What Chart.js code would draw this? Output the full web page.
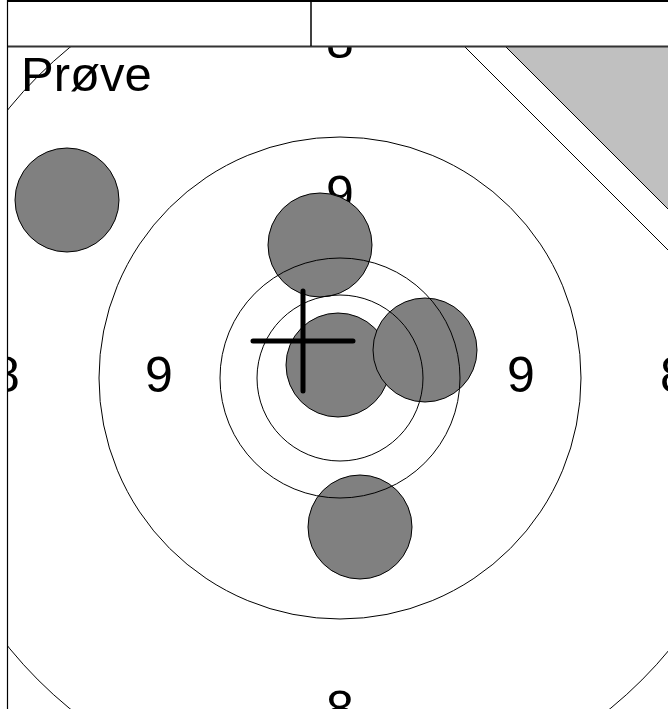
<!DOCTYPE html>
<html>
<head>
<meta charset="utf-8">
<script src="https://cdn.jsdelivr.net/npm/chart.js@4.4.0/dist/chart.umd.min.js"></script>
<style>
html,body{margin:0;padding:0;background:#fff;}
#wrap{width:668px;height:709px;position:relative;}
</style>
</head>
<body>
<div id="wrap"><canvas id="c"></canvas></div>
<script>
// ---- data (target units, centre of target = 0,0; y up) ----
const ringRadii   = [8.3, 12.0, 24.1, 42.7];
const ringLabels  = ['9', '8'];
const labelRadii  = [18.1, 33.4];
const labelAngles = [0, 90, 180, 270];

const shotX = [-27.3, -2.0, -0.2, 8.5, 2.0];
const shotY = [17.8, 13.3, 1.3, 2.8, -14.9];
const shotRadius = 5.2;

const crossX = [-3.7];
const crossY = [3.7];
const crossHalf = 5.0;

const guideX = [5.6, 40];
const guideY = [40, 5.6];
const shadeX = [9.7, 40];
const shadeY = [40, 9.7];

const titleText = 'Prøve';

// ---- helpers ----
function pxRadius(chart, r) {
  const s = chart.scales.x;
  return Math.abs(s.getPixelForValue(r) - s.getPixelForValue(0));
}
const zip = (xs, ys) => xs.map((x, i) => ({x: x, y: ys[i]}));

function drawLabels(chart) {
  const ctx = chart.ctx;
  const a = chart.chartArea;
  ctx.save();
  ctx.beginPath();
  ctx.rect(a.left, a.top, a.right - a.left, a.bottom - a.top);
  ctx.clip();
  ctx.fillStyle = '#000';
  ctx.font = '50px "Liberation Sans", Arial, sans-serif';
  ctx.textAlign = 'center';
  ctx.textBaseline = 'middle';
  ringLabels.forEach((lab, i) => {
    labelAngles.forEach(ang => {
      const t = ang * Math.PI / 180;
      const x = chart.scales.x.getPixelForValue(labelRadii[i] * Math.cos(t));
      const y = chart.scales.y.getPixelForValue(labelRadii[i] * Math.sin(t));
      ctx.fillText(lab, x, y);
    });
  });
  ctx.restore();
}

const targetPlugin = {
  id: 'target',
  beforeDatasetDraw(chart, args) {
    const ds = chart.data.datasets[args.index];
    if (ds.role === 'shots') drawLabels(chart);
    if (ds.role === 'cross') { chart.ctx.save(); chart.ctx.lineCap = 'round'; }
  },
  afterDatasetDraw(chart, args) {
    const ds = chart.data.datasets[args.index];
    if (ds.role === 'cross') chart.ctx.restore();
  },
  afterDatasetsDraw(chart) {
    const ctx = chart.ctx;
    ctx.save();
    ctx.fillStyle = '#000';
    ctx.font = '49px "Liberation Sans", Arial, sans-serif';
    ctx.textAlign = 'left';
    ctx.textBaseline = 'alphabetic';
    ctx.fillText(titleText, 21, 91);
    ctx.restore();
  },
  afterDraw(chart) {
    const ctx = chart.ctx;
    const W = chart.width, H = chart.height;
    ctx.save();
    ctx.fillStyle = '#fff';
    ctx.fillRect(0, 0, W, 46);
    ctx.strokeStyle = '#000';
    ctx.lineWidth = 2;
    ctx.beginPath(); ctx.moveTo(7, 1); ctx.lineTo(W, 1); ctx.stroke();
    ctx.strokeStyle = '#333';
    ctx.beginPath(); ctx.moveTo(7, 46.5); ctx.lineTo(W, 46.5); ctx.stroke();
    ctx.strokeStyle = '#000';
    ctx.lineWidth = 1.5;
    ctx.beginPath(); ctx.moveTo(311, 1); ctx.lineTo(311, 46); ctx.stroke();
    ctx.lineWidth = 1.2;
    ctx.beginPath(); ctx.moveTo(7.5, 0); ctx.lineTo(7.5, H); ctx.stroke();
    ctx.restore();
  }
};

new Chart(document.getElementById('c'), {
  type: 'scatter',
  data: {
    datasets: [
      {
        role: 'cross',
        data: zip(crossX, crossY),
        pointStyle: 'cross',
        pointRadius: ctx => pxRadius(ctx.chart, crossHalf),
        pointBorderColor: '#000',
        pointBorderWidth: 5,
        order: 0
      },
      {
        role: 'shade',
        type: 'line',
        data: zip(shadeX, shadeY),
        borderColor: '#000',
        borderWidth: 1,
        backgroundColor: '#c0c0c0',
        pointRadius: 0,
        fill: 'end',
        order: 1
      },
      {
        role: 'guide',
        type: 'line',
        data: zip(guideX, guideY),
        borderColor: '#000',
        borderWidth: 1,
        pointRadius: 0,
        fill: false,
        order: 2
      },
      {
        role: 'rings',
        data: ringRadii.map(() => ({x: 0, y: 0})),
        pointStyle: 'circle',
        pointRadius: ctx => pxRadius(ctx.chart, ringRadii[ctx.dataIndex]),
        pointBackgroundColor: 'rgba(0,0,0,0)',
        pointBorderColor: '#000',
        pointBorderWidth: 1,
        order: 3
      },
      {
        role: 'shots',
        data: zip(shotX, shotY),
        pointStyle: 'circle',
        pointRadius: ctx => pxRadius(ctx.chart, shotRadius),
        pointBackgroundColor: '#808080',
        pointBorderColor: '#000',
        pointBorderWidth: 1,
        order: 4
      }
    ]
  },
  options: {
    responsive: true,
    maintainAspectRatio: false,
    animation: false,
    events: [],
    layout: { padding: { left: 8, top: 47, right: 0, bottom: 0 } },
    plugins: { legend: { display: false }, tooltip: { enabled: false }, title: { display: false } },
    scales: {
      x: { type: 'linear', min: -33.2, max: 32.8, display: false },
      y: { type: 'linear', min: -33.1, max: 33.1, display: false }
    }
  },
  plugins: [targetPlugin]
});
</script>
</body>
</html>
